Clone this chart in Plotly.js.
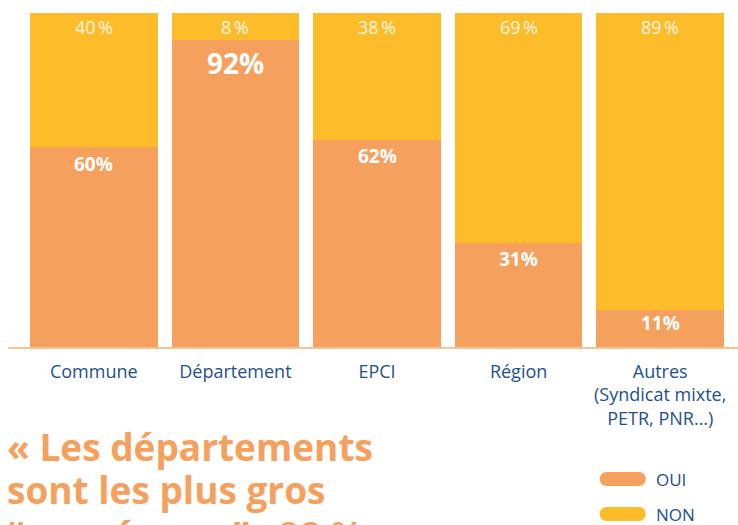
<!DOCTYPE html>
<html>
<head>
<meta charset="utf-8">
<script src="https://cdn.plot.ly/plotly-3.0.1.min.js"></script>
<style>html,body{margin:0;padding:0;background:#fff;}#chart{width:738px;height:525px;}</style>
</head>
<body>
<div id="chart"></div>
<script>
// ---- data ----
const categories = ['Commune', 'Département', 'EPCI', 'Région', 'Autres<br>(Syndicat mixte,<br>PETR, PNR…)'];
const oui = [60, 92, 62, 31, 11];
const non = [40, 8, 38, 69, 89];
const ouiLabels = ['60%', '92%', '62%', '31%', '11%'];
const nonLabels = ['40\u202F%', '8\u202F%', '38\u202F%', '69\u202F%', '89\u202F%'];
const seriesNames = ['OUI', 'NON'];
const quoteLines = ['« Les départements', 'sont les plus gros', '“acquéreurs” : 92 % »'];

// ---- styles ----
const ORANGE = '#F6A05E';
const YELLOW = '#FDBD2B';
const BLUE = '#22508F';
const FONT = '"Open Sans", "Noto Sans", sans-serif';
const ouiLabelSize = [19, 28, 19, 19, 19];
const ouiLabelShift = [-17, -23, -16, -16, -13];
const quoteLineY = [446, 490, 534];

// pixel geometry of plot area
const W = 738, H = 525;
const mL = 22.75, mR = 7.25, mT = 13, mB = 178;
const pw = W - mL - mR, ph = H - mT - mB;
const px = x => (x - mL) / pw;
const py = y => (H - mB - y) / ph;

const traces = [
  {type: 'bar', name: seriesNames[0], x: categories, y: oui, marker: {color: ORANGE, line: {width: 0}}, hoverinfo: 'none'},
  {type: 'bar', name: seriesNames[1], x: categories, y: non, marker: {color: YELLOW, line: {width: 0}}, hoverinfo: 'none'}
];

const annotations = [];
categories.forEach((c, i) => {
  annotations.push({x: c, y: oui[i], xref: 'x', yref: 'y', text: ouiLabels[i], showarrow: false,
    yanchor: 'middle', yshift: ouiLabelShift[i],
    font: {family: FONT, size: ouiLabelSize[i], color: '#FFFFFF', weight: 700}});
  annotations.push({x: c, y: oui[i] + non[i], xref: 'x', yref: 'y', text: nonLabels[i], showarrow: false,
    yanchor: 'middle', yshift: -14,
    font: {family: FONT, size: 18, color: '#FFF6E0', weight: 400}});
});

// quote text, one annotation per line
quoteLines.forEach((t, i) => {
  annotations.push({xref: 'paper', yref: 'paper', x: px(5), y: py(quoteLineY[i]), xanchor: 'left', yanchor: 'middle',
    align: 'left', showarrow: false, text: t,
    font: {family: FONT, size: 37, color: ORANGE, weight: 700}});
});

// legend labels
const legendY = [479, 514];
seriesNames.forEach((n, i) => {
  annotations.push({xref: 'paper', yref: 'paper', x: px(654), y: py(legendY[i]), xanchor: 'left', yanchor: 'middle',
    showarrow: false, text: n, font: {family: FONT, size: 17, color: BLUE}});
});

const pill = 'M -16,-7 L 16,-7 C 25.3,-7 25.3,7 16,7 L -16,7 C -25.3,7 -25.3,-7 -16,-7 Z';
const shapes = [
  {type: 'line', xref: 'paper', yref: 'paper', x0: px(8), x1: px(738), y0: py(348), y1: py(348),
    line: {color: '#F7AE72', width: 1.5}, layer: 'above'},
  {type: 'path', xref: 'paper', yref: 'paper', xsizemode: 'pixel', ysizemode: 'pixel',
    xanchor: px(622.5), yanchor: py(legendY[0]), path: pill, fillcolor: ORANGE, line: {width: 0}},
  {type: 'path', xref: 'paper', yref: 'paper', xsizemode: 'pixel', ysizemode: 'pixel',
    xanchor: px(622.5), yanchor: py(legendY[1]), path: pill, fillcolor: YELLOW, line: {width: 0}}
];

const layout = {
  width: W, height: H,
  margin: {l: mL, r: mR, t: mT, b: mB, pad: 0},
  paper_bgcolor: '#FFFFFF', plot_bgcolor: '#FFFFFF',
  barmode: 'stack', bargap: 0.1,
  showlegend: false,
  xaxis: {type: 'category', showline: false, showgrid: false, zeroline: false, ticks: '',
    tickfont: {family: FONT, size: 18, color: BLUE}, ticklabelstandoff: 12, fixedrange: true},
  yaxis: {range: [0, 100], visible: false, showgrid: false, zeroline: false, fixedrange: true},
  annotations: annotations,
  shapes: shapes
};

Plotly.newPlot('chart', traces, layout, {displayModeBar: false, staticPlot: true});
</script>
</body>
</html>
